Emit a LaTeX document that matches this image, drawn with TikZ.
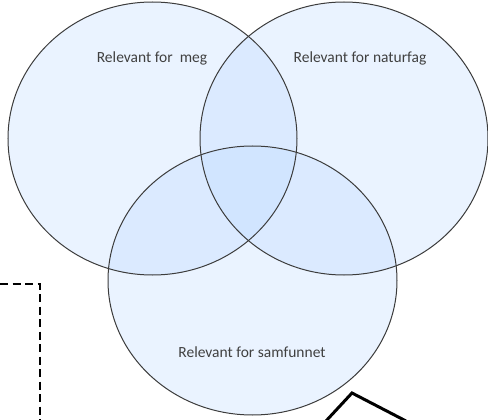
\documentclass[tikz,border=0pt]{standalone}
\usepackage{fontspec}
\setmainfont{Carlito}
\definecolor{vennfill}{RGB}{185,215,255}
\definecolor{vennline}{RGB}{60,60,60}
\definecolor{venntext}{RGB}{64,64,64}
\begin{document}
\begin{tikzpicture}[x=1pt,y=-1pt,
  venn/.style={draw=vennline,line width=1pt},
  vennbody/.style={fill=vennfill,fill opacity=0.3},
  lbl/.style={text=venntext,font=\fontsize{15.5}{18}\selectfont,inner sep=0pt},
  frameline/.style={line width=2.2pt,dash pattern=on 8pt off 4.5pt},
  thickline/.style={line width=3pt}]
\useasboundingbox (0,0) rectangle (488,420);
% fills
\fill[vennbody] (152.5,138.5) ellipse [x radius=144.5,y radius=136.5];
\fill[vennbody] (344,138.5) ellipse [x radius=144,y radius=136.5];
\fill[vennbody] (252.5,280.5) ellipse [x radius=144.5,y radius=134.5];
% outlines
\draw[venn] (152.5,138.5) ellipse [x radius=144.5,y radius=136.5];
\draw[venn] (344,138.5) ellipse [x radius=144,y radius=136.5];
\draw[venn] (252.5,280.5) ellipse [x radius=144.5,y radius=134.5];
% labels
\node[lbl] (meg) at (152,58) {Relevant for\ \ meg};
\node[lbl] (nat) at (360,58) {Relevant for naturfag};
\node[lbl] (sam) at (252,352) {Relevant for samfunnet};
% dashed frame
\coordinate (d0) at (0,284);
\coordinate (d1) at (40,284);
\coordinate (d2) at (40,421);
\draw[frameline] (d0) -- (d1) -- (d2);
% thick line
\coordinate (t0) at (326,421);
\coordinate (t1) at (352,393);
\coordinate (t2) at (406,421);
\draw[thickline,line join=miter] (t0) -- (t1) -- (t2);
\end{tikzpicture}
\end{document}
